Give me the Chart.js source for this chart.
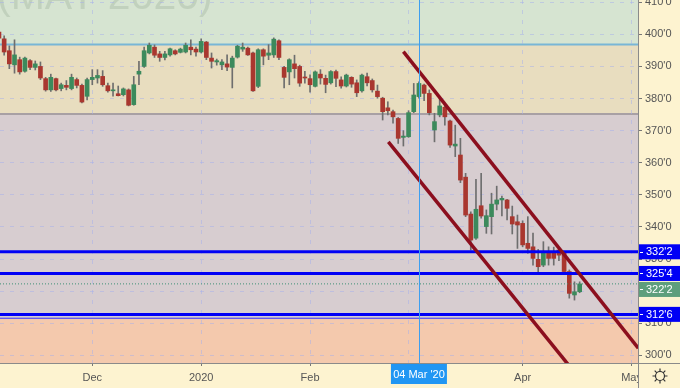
<!DOCTYPE html>
<html>
<head>
<meta charset="utf-8">
<script src="https://cdn.jsdelivr.net/npm/chart.js@4.4.1/dist/chart.umd.min.js"></script>
<style>
  html, body { margin: 0; padding: 0; background: #fdf3d0; }
  #wrap { width: 680px; height: 388px; }
</style>
</head>
<body>
<div id="wrap"><canvas id="chart" width="680" height="388"></canvas></div>
<script>
// trading-day index of the first candle (0 = 2 Dec 2019)
const firstDay = -18;

// daily OHLC
const opens = [
  400.7, 398.6, 394.9, 390.5, 392.1, 388.5, 391.8, 389.7, 390.0, 386.2,
  382.7, 386.2, 383.1, 384.1, 383.1, 385.9, 384.1, 380.7, 385.9, 386.4,
  386.9, 384.0, 382.4, 381.5, 381.2, 382.7, 378.1, 387.6, 390.0, 394.2,
  396.0, 393.9, 392.8, 393.6, 394.9, 394.4, 394.5, 396.0, 395.4, 394.5,
  397.6, 392.6, 391.4, 390.5, 390.8, 389.7, 392.9, 395.4, 395.7, 394.2,
  383.8, 395.2, 393.5, 393.6, 398.0, 389.7, 388.3, 390.8, 390.0, 386.6,
  386.2, 383.8, 387.6, 386.3, 384.9, 388.4, 385.8, 383.9, 386.6, 384.9,
  382.4, 386.8, 385.6, 382.3, 380.1, 377.1, 375.9, 373.8, 367.9, 368.1,
  375.9, 380.6, 384.2, 381.6, 370.2, 374.9, 377.3, 373.0, 365.2, 362.4,
  355.5, 344.0, 336.5, 346.6, 340.1, 343.2, 347.1, 348.4, 348.4, 343.2,
  341.6, 341.1, 334.9, 333.8, 329.9, 328.1, 332.3, 332.3, 332.8, 331.8,
  326.1, 318.8, 319.8
];
const highs = [
  401.5, 399.5, 396.4, 398.3, 392.9, 392.9, 392.1, 391.7, 391.4, 386.6,
  387.6, 386.4, 384.8, 385.6, 387.6, 386.4, 384.5, 386.4, 389.0, 389.0,
  388.7, 384.8, 384.8, 383.9, 383.3, 383.0, 386.9, 391.6, 396.0, 397.3,
  396.7, 394.7, 394.7, 395.7, 395.2, 395.7, 397.3, 398.3, 396.0, 398.6,
  397.8, 394.2, 392.3, 392.1, 393.6, 393.2, 396.6, 397.3, 396.0, 394.5,
  395.5, 395.5, 396.8, 398.9, 398.3, 390.0, 392.4, 393.5, 390.4, 388.5,
  387.4, 388.6, 389.0, 387.3, 388.7, 388.9, 386.8, 387.6, 386.8, 385.8,
  387.6, 387.9, 386.1, 384.2, 380.4, 379.0, 376.4, 374.1, 370.0, 376.2,
  384.7, 385.2, 384.5, 382.7, 375.4, 380.6, 378.5, 373.3, 371.7, 367.6,
  356.7, 344.7, 354.8, 356.7, 345.3, 350.5, 352.7, 349.6, 348.6, 346.5,
  343.7, 341.9, 343.2, 338.1, 333.0, 335.4, 333.8, 333.7, 333.3, 332.3,
  326.6, 322.9, 322.9
];
const lows = [
  398.0, 393.5, 389.3, 387.9, 387.6, 388.2, 389.0, 388.9, 385.9, 382.3,
  382.2, 382.4, 382.4, 382.7, 382.7, 383.3, 378.6, 379.6, 384.3, 384.8,
  383.8, 382.0, 380.7, 380.8, 380.8, 377.7, 377.9, 384.3, 389.7, 393.9,
  392.8, 391.6, 392.0, 393.2, 393.6, 394.2, 394.2, 393.6, 393.2, 394.2,
  392.1, 389.5, 390.4, 389.0, 388.7, 383.3, 392.6, 394.7, 393.4, 382.2,
  383.4, 390.5, 392.1, 392.8, 392.1, 383.3, 384.3, 386.4, 383.8, 384.8,
  382.0, 383.6, 384.5, 381.8, 384.5, 383.7, 383.2, 383.6, 383.5, 380.6,
  382.0, 383.9, 382.0, 380.1, 373.3, 374.9, 372.3, 366.0, 365.2, 367.9,
  375.6, 380.1, 379.3, 374.9, 366.5, 374.3, 371.7, 364.8, 361.9, 353.8,
  343.2, 332.8, 336.1, 342.7, 338.0, 337.8, 345.3, 343.4, 342.2, 337.8,
  333.3, 333.8, 331.8, 328.1, 325.5, 327.6, 328.1, 328.1, 329.5, 325.5,
  317.8, 317.2, 319.5
];
const closes = [
  398.8, 394.5, 390.8, 393.6, 388.3, 392.6, 389.7, 390.8, 386.4, 382.7,
  386.6, 382.7, 384.3, 383.5, 386.6, 384.1, 378.9, 385.9, 386.6, 387.2,
  384.3, 382.4, 382.7, 380.9, 383.0, 377.9, 384.3, 388.5, 394.9, 396.6,
  393.5, 392.8, 393.9, 395.5, 393.9, 395.4, 396.6, 395.2, 394.5, 397.8,
  392.8, 391.6, 391.8, 391.4, 389.8, 392.6, 396.3, 396.0, 393.6, 382.4,
  395.2, 393.2, 394.2, 398.5, 392.8, 386.6, 392.1, 389.3, 384.8, 386.4,
  384.3, 388.3, 386.4, 384.4, 388.4, 386.3, 383.9, 387.3, 384.5, 381.8,
  387.3, 384.9, 382.7, 380.6, 375.9, 376.2, 374.3, 367.6, 368.3, 375.6,
  381.1, 384.7, 381.6, 375.6, 372.8, 377.7, 374.3, 365.5, 365.8, 354.6,
  343.7, 335.9, 345.5, 343.4, 343.5, 347.1, 348.4, 348.9, 345.8, 340.9,
  340.6, 334.4, 333.3, 330.2, 327.6, 331.8, 330.2, 330.2, 331.2, 326.1,
  319.3, 319.8, 322.25
];

// axis ticks
const xTickPos = [0, 21, 42, 61, 83, 104];
const xTickLabels = ['Dec', '2020', 'Feb', '', 'Apr', 'May'];
const yTicks = [300, 310, 320, 330, 340, 350, 360, 370, 380, 390, 400, 410];
const xRange = [-17.8, 105.25];
const yRange = [297.6, 410.7];

// horizontal levels
const levels = [332.25, 325.5, 312.75];
const levelLabels = ["332'2", "325'4", "312'6"];
const lastPrice = 322.25;
const lastLabel = "322'2";

// background zones
const zoneEdges = [410.7, 396.8, 375.2, 311.55, 297.6];
const zoneColors = ['#d6e4d1', '#e8ddbf', '#d7cdd0', '#f4c9ad'];

// channel lines [day, price]
const upperTrend = [[60, 394.6], [105.3, 302.2]];
const lowerTrend = [[57.1, 366.5], [93, 294.7]];

// crosshair
const crossDay = 63;
const crossLabel = "04 Mar '20";

const FONT = "'Liberation Sans', Arial, sans-serif";
const RED = '#a9372f';
const GREEN = '#3c8a5c';

const days = opens.map((_, i) => firstDay + i);
const isUp = opens.map((o, i) => closes[i] >= o);

const bodies = days.map((d, i) => ({ x: d, y: [Math.min(opens[i], closes[i]), Math.max(opens[i], closes[i])] }));
const wicks = days.map((d, i) => ({ x: d, y: [lows[i], highs[i]] }));
const bodyColors = isUp.map(u => u ? GREEN : RED);

function hLine(v) {
    return [{ x: xRange[0], y: v }, { x: xRange[1], y: v }];
}

const backdrop = {
    id: 'backdrop',
    beforeDraw(chart) {
        const { ctx, chartArea: a, scales: { y } } = chart;
        ctx.save();
        ctx.fillStyle = '#fdf3d0';
        ctx.fillRect(0, 0, chart.width, chart.height);
        for (let i = 0; i < zoneColors.length; i++) {
            const y1 = y.getPixelForValue(zoneEdges[i]);
            const y2 = y.getPixelForValue(zoneEdges[i + 1]);
            ctx.fillStyle = zoneColors[i];
            ctx.fillRect(a.left, Math.max(a.top, y1), a.right - a.left, Math.min(a.bottom, y2) - Math.max(a.top, y1));
        }
        // zone borders
        ctx.lineWidth = 2;
        ctx.strokeStyle = '#78b6d6';
        let py = y.getPixelForValue(zoneEdges[1]);
        ctx.beginPath(); ctx.moveTo(a.left, py); ctx.lineTo(a.right, py); ctx.stroke();
        ctx.strokeStyle = '#a8a0a4';
        py = y.getPixelForValue(zoneEdges[2]);
        ctx.beginPath(); ctx.moveTo(a.left, py); ctx.lineTo(a.right, py); ctx.stroke();
        // watermark
        ctx.beginPath();
        ctx.rect(a.left, a.top, a.right - a.left, a.bottom - a.top);
        ctx.clip();
        ctx.fillStyle = 'rgba(90,110,90,0.16)';
        ctx.font = '41px ' + FONT;
        ctx.textBaseline = 'alphabetic';
        ctx.fillText('(MAY 2020)', -3, 9);
        ctx.restore();
    },
    afterDatasetsDraw(chart) {
        const { ctx, chartArea: a, scales: { x } } = chart;
        const px = Math.round(x.getPixelForValue(crossDay)) + 0.5;
        ctx.save();
        ctx.strokeStyle = '#3d9ff0';
        ctx.lineWidth = 1;
        ctx.beginPath(); ctx.moveTo(px, a.top); ctx.lineTo(px, a.bottom); ctx.stroke();
        ctx.restore();
    },
    afterDraw(chart) {
        const { ctx, chartArea: a, scales: { x, y } } = chart;
        ctx.save();
        // axis separators
        ctx.strokeStyle = '#8a8a8a';
        ctx.lineWidth = 1;
        ctx.beginPath();
        ctx.moveTo(a.right + 0.5, 0); ctx.lineTo(a.right + 0.5, chart.height);
        ctx.moveTo(0, a.bottom + 0.5); ctx.lineTo(chart.width, a.bottom + 0.5);
        ctx.stroke();

        // price labels on the right axis
        const boxes = levels.map((v, i) => ({ v, t: levelLabels[i], c: '#0000f5' }));
        boxes.push({ v: lastPrice, t: lastLabel, c: '#5e9e7c' });
        boxes.sort((p, q) => q.v - p.v);
        const h = 15;
        let prevBottom = -Infinity;
        ctx.font = '11px ' + FONT;
        ctx.textBaseline = 'middle';
        boxes.forEach(b => {
            let cy = y.getPixelForValue(b.v);
            if (cy - h / 2 < prevBottom + 1) cy = prevBottom + 1 + h / 2;
            prevBottom = cy + h / 2;
            ctx.fillStyle = b.c;
            ctx.fillRect(a.right + 1, cy - h / 2, chart.width - a.right - 1, h);
            ctx.fillStyle = '#ffffff';
            ctx.fillRect(a.right + 2, Math.round(cy), 3, 1);
            ctx.fillText(b.t, a.right + 8, cy + 0.5);
        });

        // crosshair date label
        const cx = x.getPixelForValue(crossDay);
        ctx.fillStyle = '#2196f3';
        ctx.fillRect(cx - 28, a.bottom + 1, 56, 20);
        ctx.fillStyle = '#ffffff';
        ctx.textAlign = 'center';
        ctx.fillText(crossLabel, cx, a.bottom + 11.5);

        // corner box with gear
        ctx.fillStyle = '#fdf3d0';
        ctx.fillRect(a.right + 1, a.bottom + 1, chart.width - a.right - 1, chart.height - a.bottom - 1);
        const gx = (a.right + chart.width) / 2 + 1, gy = a.bottom + 13;
        ctx.strokeStyle = '#333333';
        ctx.lineWidth = 1.2;
        ctx.beginPath(); ctx.arc(gx, gy, 4.5, 0, Math.PI * 2); ctx.stroke();
        ctx.beginPath();
        for (let k = 0; k < 8; k++) {
            const ang = k * Math.PI / 4;
            ctx.moveTo(gx + Math.cos(ang) * 4.5, gy + Math.sin(ang) * 4.5);
            ctx.lineTo(gx + Math.cos(ang) * 7.5, gy + Math.sin(ang) * 7.5);
        }
        ctx.stroke();
        ctx.restore();
    }
};

const trendStyle = { type: 'line', borderColor: '#8c0f1e', borderWidth: 3.5, pointRadius: 0, order: 0 };
const levelStyle = { type: 'line', borderColor: '#0000f5', borderWidth: 3, pointRadius: 0, order: 0 };

new Chart(document.getElementById('chart'), {
    type: 'bar',
    data: {
        datasets: [
            { ...trendStyle, data: upperTrend.map(p => ({ x: p[0], y: p[1] })) },
            { ...trendStyle, data: lowerTrend.map(p => ({ x: p[0], y: p[1] })) },
            ...levels.map(v => ({ ...levelStyle, data: hLine(v) })),
            { ...levelStyle, borderWidth: 1, borderColor: '#3030ff', data: hLine(zoneEdges[3]) },
            { type: 'line', borderColor: '#3f8f76', borderWidth: 1, borderDash: [1, 2], pointRadius: 0, order: 0, data: hLine(lastPrice) },
            { data: bodies, backgroundColor: bodyColors, barThickness: 4, grouped: false, minBarLength: 1, order: 1 },
            { data: wicks, backgroundColor: '#6e6e6e', barThickness: 1, grouped: false, order: 2 }
        ]
    },
    options: {
        responsive: false,
        animation: false,
        devicePixelRatio: 1,
        layout: { padding: 0 },
        plugins: { legend: { display: false }, tooltip: { enabled: false } },
        scales: {
            x: {
                type: 'linear',
                min: xRange[0],
                max: xRange[1],
                offset: false,
                grid: { offset: false, color: 'rgba(165,175,235,0.5)', tickLength: 3, tickColor: '#777', tickBorderDash: [] },
                border: { display: false, dash: [4, 6] },
                afterBuildTicks: s => { s.ticks = xTickPos.map(v => ({ value: v })); },
                afterFit: s => { s.height = 25; s.paddingLeft = 0; s.paddingRight = 0; },
                ticks: {
                    autoSkip: false,
                    maxRotation: 0,
                    padding: 5,
                    color: '#555555',
                    font: { family: FONT, size: 11 },
                    callback: v => xTickLabels[xTickPos.indexOf(v)] ?? ''
                }
            },
            y: {
                type: 'linear',
                position: 'right',
                min: yRange[0],
                max: yRange[1],
                grid: { color: 'rgba(165,175,235,0.5)', tickLength: 4, tickColor: '#777', tickBorderDash: [] },
                border: { display: false, dash: [4, 6] },
                afterBuildTicks: s => { s.ticks = yTicks.map(v => ({ value: v })); },
                afterFit: s => { s.width = 42; s.paddingTop = 0; s.paddingBottom = 0; },
                ticks: {
                    padding: 3,
                    color: '#555555',
                    font: { family: FONT, size: 11 },
                    callback: v => v + "'0"
                }
            }
        }
    },
    plugins: [backdrop]
});
</script>
</body>
</html>
